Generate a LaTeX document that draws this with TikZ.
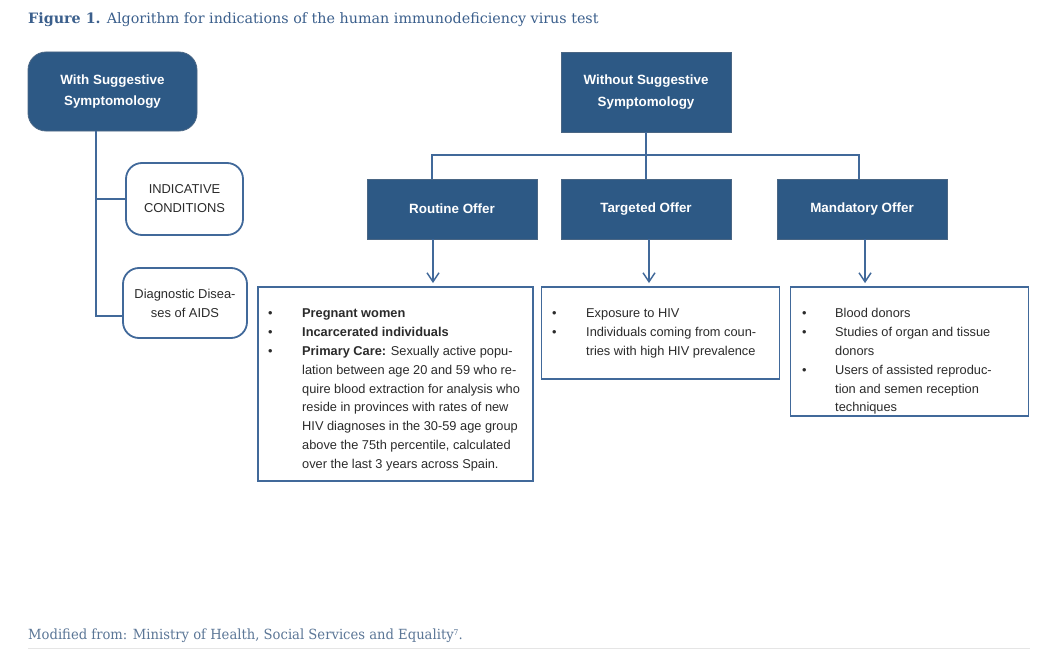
\documentclass[tikz,border=0pt]{standalone}
\usepackage{fontspec}
\setmainfont{Liberation Sans}
\newfontfamily\serifT{DejaVu Serif}
\usetikzlibrary{arrows.meta,calc}
\definecolor{darkfill}{HTML}{2D5985}
\definecolor{darkedge}{HTML}{4A6684}
\definecolor{linec}{HTML}{41699A}
\definecolor{titleblue}{HTML}{3B5F8C}
\definecolor{footblue}{HTML}{5B7696}
\definecolor{bodytext}{HTML}{2B2B2B}
\begin{document}
\begin{tikzpicture}[x=1pt,y=-1pt,
  darkbox/.style={draw=darkedge, line width=0.8pt, fill=darkfill, text=white, align=center,
    font=\bfseries\fontsize{13.4}{21.5}\selectfont, inner sep=0pt},
  roundbox/.style={draw=linec, line width=1.8pt, fill=white, rounded corners=16pt, align=center,
    text=bodytext, font=\fontsize{12.9}{19}\selectfont, inner sep=0pt},
  listbox/.style={draw=linec, line width=1.8pt, fill=white, inner sep=0pt},
  listtext/.style={anchor=north west, inner sep=0pt, align=left, text=bodytext,
    font=\fontsize{12.8}{18.8}\selectfont},
  conn/.style={draw=linec, line width=1.8pt},
  arr/.style={conn, -{Straight Barb[length=9pt,width=12pt,line width=1.5pt]}}
]
\useasboundingbox (0,0) rectangle (1048,650);

% title
\node[anchor=base west, inner sep=0pt, text=titleblue,
  font=\serifT\fontsize{14.3}{16}\selectfont] (title) at (28,24)
  {\textbf{Figure 1.} Algorithm for indications of the human immunodeficiency virus test};

% left branch
\node[darkbox, rounded corners=18pt, minimum width=169pt, minimum height=79pt] (ws) at (112.5,91.5)
  {With Suggestive\\Symptomology};
\node[roundbox, minimum width=117pt, minimum height=72pt] (ic) at (184.5,199)
  {INDICATIVE\\CONDITIONS};
\node[roundbox, minimum width=124pt, minimum height=70pt] (dd) at (185,303)
  {Diagnostic Disea-\\ses of AIDS};

\coordinate (lv) at ($(ws.south west)!0.402!(ws.south east)$);
\draw[conn] (lv) |- (ic.west);
\draw[conn] (lv) |- ([yshift=-13pt]dd.west);

% right branch
\node[darkbox, minimum width=170pt, minimum height=80pt] (wo) at (646,92)
  {Without Suggestive\\Symptomology};
\node[darkbox, minimum width=170pt, minimum height=60pt] (ro) at (452,209) {Routine Offer};
\node[darkbox, minimum width=170pt, minimum height=60pt] (tg) at (646,209) {Targeted Offer};
\node[darkbox, minimum width=170pt, minimum height=60pt] (mo) at (862,209) {Mandatory Offer};

\coordinate (hb) at (646,155);
\draw[conn] (wo.south) -- (tg.north);
\draw[conn] ([xshift=-20pt]ro.north) |- (hb) -| ([xshift=-3pt]mo.north);

% content boxes
\node[listbox, minimum width=275pt, minimum height=194pt] (rc) at (395.5,384) {};
\node[listbox, minimum width=238pt, minimum height=92pt] (tc) at (660.5,333) {};
\node[listbox, minimum width=238pt, minimum height=129pt] (mc) at (909.5,351.5) {};

% arrows
\coordinate (ra) at ([xshift=-19pt]ro.south);
\coordinate (ta) at ([xshift=3pt]tg.south);
\coordinate (ma) at ([xshift=3pt]mo.south);
\draw[arr, shorten >=3pt] (ra) -- (ra |- rc.north);
\draw[arr, shorten >=3pt] (ta) -- (ta |- tc.north);
\draw[arr, shorten >=3pt] (ma) -- (ma |- mc.north);

% list texts
\node[listtext] (rt) at (268,304.5)
  {\strut\makebox[34pt][l]{•}\textbf{Pregnant women}\\
   \makebox[34pt][l]{•}\textbf{Incarcerated individuals}\\
   \makebox[34pt][l]{•}\textbf{Primary Care:} Sexually active popu-\\
   \hspace*{34pt}lation between age 20 and 59 who re-\\
   \hspace*{34pt}quire blood extraction for analysis who\\
   \hspace*{34pt}reside in provinces with rates of new\\
   \hspace*{34pt}HIV diagnoses in the 30-59 age group\\
   \hspace*{34pt}above the 75th percentile, calculated\\
   \hspace*{34pt}over the last 3 years across Spain.};

\node[listtext] (tt) at (552,304.5)
  {\strut\makebox[34pt][l]{•}Exposure to HIV\\
   \makebox[34pt][l]{•}Individuals coming from coun-\\
   \hspace*{34pt}tries with high HIV prevalence};

\node[listtext] (mt) at (802,304.5)
  {\strut\makebox[33pt][l]{•}Blood donors\\
   \makebox[33pt][l]{•}Studies of organ and tissue\\
   \hspace*{33pt}donors\\
   \makebox[33pt][l]{•}Users of assisted reproduc-\\
   \hspace*{33pt}tion and semen reception\\
   \hspace*{33pt}techniques};

% footer
\node[anchor=base west, inner sep=0pt, text=footblue,
  font=\serifT\fontsize{14}{16}\selectfont] (foot) at (28,639)
  {\scalebox{0.94}[1]{Modified from: Ministry of Health, Social Services and Equality\raisebox{4pt}{\fontsize{8}{8}\selectfont 7}.}};
\coordinate (fl) at (28,648);
\coordinate (fr) at (1030,648);
\draw[draw=black!10, line width=0.8pt] (fl) -- (fr);
\end{tikzpicture}
\end{document}
